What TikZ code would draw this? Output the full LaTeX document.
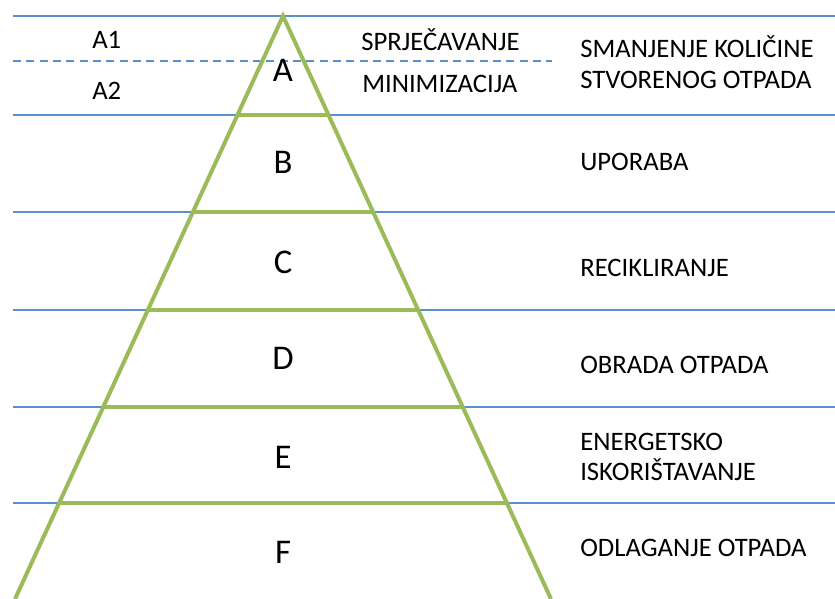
\documentclass[tikz,border=0pt]{standalone}
\usepackage{fontspec}
\setmainfont{Carlito}
\usetikzlibrary{calc}
\definecolor{lineblue}{RGB}{91,143,206}
\definecolor{pyrgreen}{RGB}{155,187,89}

\begin{document}
\begin{tikzpicture}[x=0.75pt, y=-0.75pt,
  level/.style={draw=lineblue, line width=1.5pt},
  rung/.style={draw=pyrgreen, line width=3pt},
  tier/.style={font=\fontsize{26}{29}\selectfont},
  sidetext/.style={anchor=west, font=\fontsize{20}{23}\selectfont, align=left, inner sep=0pt},
  subtext/.style={anchor=west, font=\fontsize{20}{23}\selectfont, inner sep=0pt}]
\useasboundingbox (0,0) rectangle (835,599);
% levels
\draw[level] (13,16) -- (835,16);
\draw[level, dash pattern=on 6pt off 4pt] (13,61) -- (552,61);
\foreach \y in {115,212,310,407,503}
  \draw[level] (13,\y) -- (835,\y);
% pyramid
\coordinate (apex) at (283,16);
\coordinate (bl) at (15,599);
\coordinate (br) at (551,599);
\draw[rung, line join=miter] (bl) -- (apex) -- (br);
\foreach \y in {115,212,310,407,503}
  \draw[rung] ($(apex)!{(\y-16)/583}!(bl)$) -- ($(apex)!{(\y-16)/583}!(br)$);
% tiers
\node[tier] (A) at (283,70) {A};
\node[tier] (B) at (283,162) {B};
\node[tier] (C) at (283,262) {C};
\node[tier] (D) at (283,358) {D};
\node[tier] (E) at (283,457) {E};
\node[tier] (F) at (283,552) {F};
% sub levels
\node[subtext] (a1) at (92,40) {A1};
\node[subtext] (a2) at (92,91) {A2};
\node[subtext] (sprj) at (361,40) {SPRJEČAVANJE};
\node[subtext] (mini) at (362,84) {MINIMIZACIJA};
% right texts
\node[sidetext] (smanj) at (580,62) {SMANJENJE KOLIČINE\\STVORENOG OTPADA};
\node[sidetext] (upor) at (580,162) {UPORABA};
\node[sidetext] (recik) at (580,268) {RECIKLIRANJE};
\node[sidetext] (obrada) at (580,365) {OBRADA OTPADA};
\node[sidetext] (energ) at (580,457) {ENERGETSKO\\ISKORIŠTAVANJE};
\node[sidetext] (odlag) at (580,548) {ODLAGANJE OTPADA};
\end{tikzpicture}
\end{document}
